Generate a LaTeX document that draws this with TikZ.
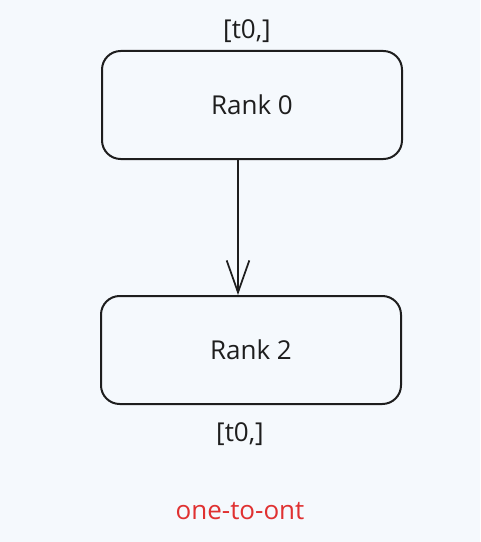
\documentclass[tikz,border=0pt]{standalone}
\usepackage{fontspec}
\setmainfont{Open Sans}
\usetikzlibrary{arrows.meta}
\definecolor{bg}{HTML}{F5F9FD}
\definecolor{ink}{HTML}{1E1E1E}
\definecolor{redtxt}{HTML}{E03131}
\begin{document}
\begin{tikzpicture}[x=0.75pt,y=-0.75pt,
  rankbox/.style={draw=ink,line width=1.5pt,rounded corners=14pt,minimum width=225pt,minimum height=81pt,inner sep=0pt,font=\fontsize{19.5}{22}\selectfont,text=ink},
  lbl/.style={font=\fontsize{19.5}{22}\selectfont,text=ink,inner sep=0pt},
  conn/.style={draw=ink,line width=1.3pt,-{Straight Barb[length=24pt,width=17pt,line width=1.3pt]}}]
\fill[bg] (0,0) rectangle (480,542);
\useasboundingbox (0,0) rectangle (480,542);
\node[rankbox] (r0) at (252,105) {Rank 0};
\node[rankbox] (r2) at (251,350) {Rank 2};
\node[lbl] (l0) at (247,31) {[t0,]};
\node[lbl] (l2) at (240,434) {[t0,]};
\node[lbl,text=redtxt] (cap) at (240,511) {one-to-ont};
\coordinate (a0) at (238,159);
\coordinate (a1) at (238,295);
\draw[conn] (a0) -- (a1);
\end{tikzpicture}
\end{document}
